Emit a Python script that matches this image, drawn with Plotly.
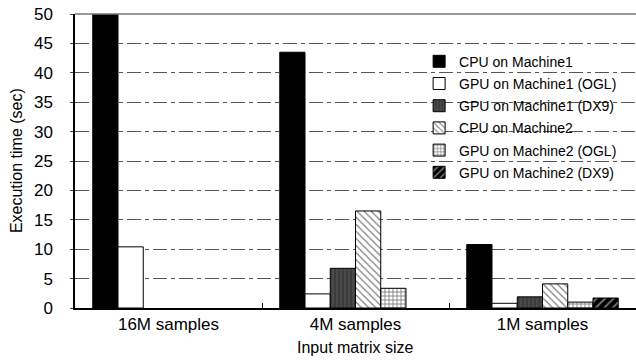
import plotly.graph_objects as go

categories = ["16M samples", "4M samples", "1M samples"]
series_names = [
    "CPU on Machine1",
    "GPU on Machine1 (OGL)",
    "GPU on Machine1 (DX9)",
    "CPU on Machine2",
    "GPU on Machine2 (OGL)",
    "GPU on Machine2 (DX9)",
]
cpu_m1 = [50.0, 43.5, 10.8]
gpu_m1_ogl = [10.4, 2.4, 0.8]
gpu_m1_dx9 = [None, 6.75, 1.9]
cpu_m2 = [None, 16.5, 4.1]
gpu_m2_ogl = [None, 3.35, 1.0]
gpu_m2_dx9 = [None, None, 1.7]
y_ticks = [0, 5, 10, 15, 20, 25, 30, 35, 40, 45, 50]

series_values = [cpu_m1, gpu_m1_ogl, gpu_m1_dx9, cpu_m2, gpu_m2_ogl, gpu_m2_dx9]

styles = [
    dict(color="black", pattern=dict(shape="")),
    dict(color="white", pattern=dict(shape="")),
    dict(color="#3c3c3c", pattern=dict(shape="|", fgcolor="#6a6a6a", bgcolor="#3c3c3c", size=4, solidity=0.3)),
    dict(color="white", pattern=dict(shape="\\", fgcolor="black", bgcolor="white", size=5, solidity=0.25)),
    dict(color="white", pattern=dict(shape="+", fgcolor="black", bgcolor="white", size=4, solidity=0.4)),
    dict(color="black", pattern=dict(shape="/", fgcolor="white", bgcolor="black", size=6, solidity=0.3)),
]

fig = go.Figure()
for i, (name, vals, st) in enumerate(zip(series_names, series_values, styles)):
    fig.add_trace(go.Bar(
        name=name, x=categories, y=vals,
        marker=dict(color=st["color"], pattern=st["pattern"],
                    line=dict(color="black", width=1)),
        legendgroup=f"g{i}",
    ))

font_family = "Liberation Sans, Arial, sans-serif"

fig.update_layout(
    width=636, height=360,
    margin=dict(l=75, r=0, t=14, b=52, autoexpand=False),
    paper_bgcolor="white", plot_bgcolor="white",
    barmode="group", bargap=0.19, bargroupgap=0,
    font=dict(family=font_family, color="black", size=17),
    showlegend=True,
    legend=dict(
        xref="container", yref="container",
        x=0.659, y=0.873, xanchor="left", yanchor="top",
        bgcolor="rgba(0,0,0,0)", font=dict(size=14),
        tracegroupgap=1, itemwidth=30,
    ),
    xaxis=dict(
        showline=True, linecolor="black", linewidth=1.5,
        tickson="boundaries", ticks="inside", ticklen=5, tickcolor="black",
        showgrid=False, tickfont=dict(size=17), automargin=False,
    ),
    yaxis=dict(
        range=[0, 50], tickvals=y_ticks,
        showline=True, linecolor="black", linewidth=1.5,
        ticks="outside", ticklen=3, tickcolor="#444",
        showgrid=True, gridcolor="#555", gridwidth=1.2,
        griddash="14px,4px,4px,4px",
        zeroline=False, tickfont=dict(size=17), ticklabelstandoff=14,
        automargin=False,
    ),
    annotations=[
        dict(text="Execution time (sec)", xref="paper", yref="paper",
             x=-0.105, y=0.5, xanchor="center", yanchor="middle",
             textangle=-90, showarrow=False, font=dict(size=16)),
        dict(text="Input matrix size", xref="paper", yref="paper",
             x=0.5, y=-0.136, xanchor="center", yanchor="middle",
             showarrow=False, font=dict(size=16)),
    ],
    shapes=[dict(type="line", xref="paper", yref="paper", x0=0, x1=1, y0=1, y1=1,
                 line=dict(color="#777", width=1.5))],
)

fig.write_html("out.html", config={"displayModeBar": False},
               post_script="document.body.style.margin='0';")
